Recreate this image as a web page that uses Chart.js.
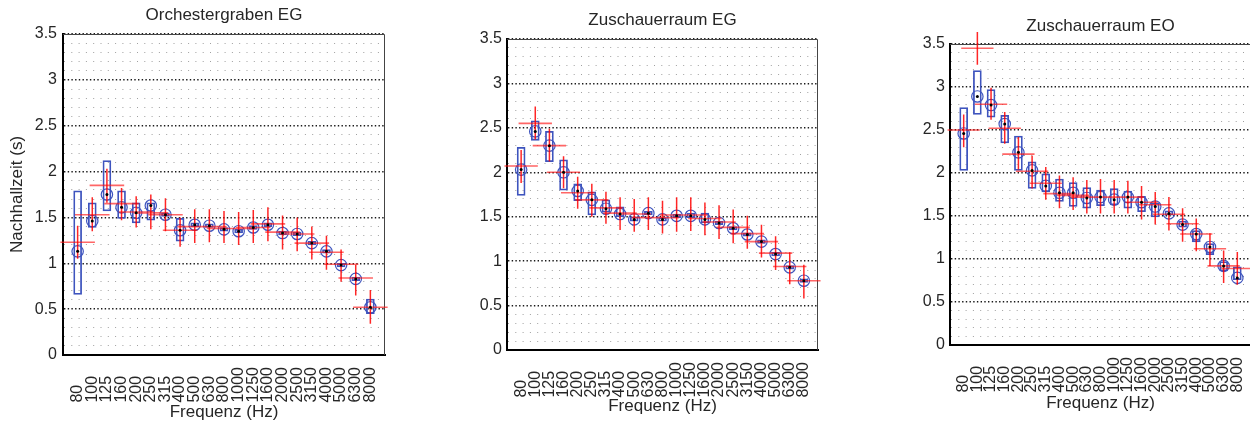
<!DOCTYPE html>
<html>
<head>
<meta charset="utf-8">
<script src="https://cdn.jsdelivr.net/npm/chart.js@4.4.1/dist/chart.umd.min.js"></script>
<style>
  html, body { margin: 0; padding: 0; background: #fff; width: 1250px; height: 425px; overflow: hidden; }
  canvas { position: absolute; left: 0; top: 0; }
</style>
</head>
<body>
<canvas id="c1" width="1250" height="425"></canvas>
<canvas id="c2" width="1250" height="425"></canvas>
<canvas id="c3" width="1270" height="425"></canvas>
<script>
/* Terzbänder und Achsenbeschriftung */
const FREQS = ['80', '100', '125', '160', '200', '250', '315', '400', '500', '630', '800',
               '1000', '1250', '1600', '2000', '2500', '3150', '4000', '5000', '6300', '8000'];
const Y_TICKS = [0, 0.5, 1, 1.5, 2, 2.5, 3, 3.5];

/* Orchestergraben EG */
const orchMean  = [1.13, 1.46, 1.75, 1.61, 1.55, 1.63, 1.53, 1.36, 1.42, 1.41, 1.37, 1.35, 1.39, 1.42, 1.33, 1.32, 1.22, 1.13, 0.98, 0.83, 0.52];
const orchQ1    = [0.66, 1.39, 1.57, 1.49, 1.44, 1.47, 1.51, 1.24, 1.40, 1.39, 1.35, 1.33, 1.37, 1.40, 1.31, 1.30, 1.20, 1.11, 0.96, 0.81, 0.45];
const orchQ3    = [1.79, 1.66, 2.12, 1.79, 1.66, 1.66, 1.55, 1.49, 1.44, 1.43, 1.39, 1.37, 1.41, 1.44, 1.35, 1.34, 1.24, 1.15, 1.00, 0.85, 0.61];
const orchRed   = [1.23, 1.53, 1.85, 1.65, 1.56, 1.55, 1.53, 1.36, 1.40, 1.40, 1.38, 1.38, 1.39, 1.43, 1.34, 1.32, 1.22, 1.12, 0.99, 0.84, 0.52];
const orchRedLo = [1.05, 1.35, 1.66, 1.47, 1.39, 1.37, 1.35, 1.18, 1.22, 1.23, 1.22, 1.20, 1.22, 1.24, 1.15, 1.13, 1.04, 0.93, 0.80, 0.65, 0.34];
const orchRedHi = [1.41, 1.72, 2.03, 1.82, 1.73, 1.75, 1.71, 1.50, 1.59, 1.59, 1.57, 1.56, 1.58, 1.61, 1.52, 1.50, 1.40, 1.30, 1.15, 0.98, 0.71];

/* Zuschauerraum EG */
const zegMean  = [2.03, 2.46, 2.30, 2.00, 1.79, 1.69, 1.59, 1.53, 1.47, 1.54, 1.47, 1.51, 1.51, 1.47, 1.43, 1.37, 1.30, 1.22, 1.08, 0.93, 0.78];
const zegQ1    = [1.74, 2.36, 2.12, 1.80, 1.68, 1.52, 1.55, 1.50, 1.45, 1.52, 1.45, 1.49, 1.49, 1.43, 1.41, 1.35, 1.28, 1.20, 1.06, 0.91, 0.76];
const zegQ3    = [2.28, 2.58, 2.46, 2.14, 1.87, 1.78, 1.69, 1.61, 1.50, 1.56, 1.49, 1.53, 1.54, 1.54, 1.45, 1.39, 1.32, 1.24, 1.10, 0.95, 0.80];
const zegRed   = [2.07, 2.55, 2.30, 2.00, 1.77, 1.69, 1.60, 1.54, 1.53, 1.49, 1.49, 1.52, 1.52, 1.48, 1.44, 1.38, 1.31, 1.22, 1.09, 0.94, 0.78];
const zegRedLo = [1.88, 2.37, 2.12, 1.82, 1.59, 1.50, 1.42, 1.35, 1.33, 1.35, 1.31, 1.33, 1.34, 1.29, 1.25, 1.20, 1.14, 1.04, 0.90, 0.74, 0.58];
const zegRedHi = [2.25, 2.74, 2.49, 2.18, 1.95, 1.87, 1.78, 1.72, 1.70, 1.72, 1.68, 1.72, 1.72, 1.66, 1.63, 1.58, 1.51, 1.41, 1.28, 1.10, 0.96];

/* Zuschauerraum EO */
const zeoMean  = [2.46, 2.89, 2.79, 2.57, 2.24, 2.03, 1.85, 1.77, 1.77, 1.71, 1.72, 1.69, 1.72, 1.66, 1.61, 1.53, 1.40, 1.29, 1.14, 0.92, 0.78];
const zeoQ1    = [2.03, 2.68, 2.65, 2.35, 2.03, 1.82, 1.78, 1.67, 1.61, 1.59, 1.62, 1.63, 1.59, 1.55, 1.49, 1.51, 1.37, 1.20, 1.05, 0.86, 0.76];
const zeoQ3    = [2.76, 3.19, 2.97, 2.67, 2.43, 2.13, 1.99, 1.93, 1.89, 1.83, 1.80, 1.82, 1.79, 1.73, 1.65, 1.56, 1.44, 1.33, 1.18, 0.97, 0.91];
const zeoRed   = [2.50, 3.45, 2.80, 2.52, 2.22, 2.02, 1.88, 1.76, 1.74, 1.72, 1.72, 1.72, 1.72, 1.66, 1.63, 1.52, 1.41, 1.29, 1.12, 0.92, 0.89];
const zeoRedLo = [2.30, 3.26, 2.62, 2.34, 2.04, 1.82, 1.69, 1.59, 1.57, 1.53, 1.53, 1.53, 1.53, 1.46, 1.40, 1.33, 1.20, 1.09, 0.92, 0.72, 0.70];
const zeoRedHi = [2.68, 3.64, 2.99, 2.71, 2.42, 2.20, 2.07, 1.97, 1.95, 1.92, 1.93, 1.92, 1.91, 1.85, 1.78, 1.72, 1.59, 1.47, 1.30, 1.10, 1.08];

const FONT = '"Liberation Sans", Arial, Helvetica, sans-serif';
const TXT = '#262626';
const BLUE = 'rgb(62,84,190)';
const HALF = 1.18; // halbe Breite der roten Querstriche, in Bändern

// Gitterlinien alle 0.1 s
const gridVals = [];
for (let k = 0; k <= 35; k++) gridVals.push(k / 10);
const majorLabel = v => Y_TICKS.find(m => Math.abs(m - v) < 1e-6);
// zwei Leerzeichen ~ eine Ziffer, damit die gedrehten Labels unten bündig sind
const padLabel = s => s + '  '.repeat(4 - s.length);

/** Rahmen oben und rechts */
const framePlugin = {
    id: 'frame',
    beforeDatasetsDraw(chart) {
        const { ctx, chartArea: a } = chart;
        ctx.save();
        ctx.strokeStyle = '#444';
        ctx.lineWidth = 1;
        ctx.beginPath();
        ctx.moveTo(a.left, a.top + 0.5);
        ctx.lineTo(a.right - 0.5, a.top + 0.5);
        ctx.lineTo(a.right - 0.5, a.bottom);
        ctx.stroke();
        ctx.restore();
    }
};

/** Titel über der Zeichenfläche zentriert */
const titlePlugin = {
    id: 'panelTitle',
    afterDraw(chart, args, opts) {
        const { ctx, chartArea: a } = chart;
        ctx.save();
        ctx.font = '17px ' + FONT;
        ctx.fillStyle = TXT;
        ctx.textAlign = 'center';
        ctx.textBaseline = 'middle';
        ctx.fillText(opts.text, (a.left + a.right) / 2, opts.y);
        ctx.restore();
    }
};

function makePanel(p) {
    const pos = FREQS.map((f, i) => i + 1);
    const boxes = pos.map((x, i) => ({ x, y: [p.q1[i], p.q3[i]] }));
    const circles = pos.map((x, i) => ({ x, y: p.mean[i] }));
    const hSeg = pos.flatMap((x, i) => [{ x: x - HALF, y: p.red[i] }, { x: x + HALF, y: p.red[i] }, { x, y: null }]);
    const vSeg = pos.flatMap((x, i) => [{ x, y: p.redLo[i] }, { x, y: p.redHi[i] }, { x, y: null }]);

    const canvas = document.getElementById(p.id);
    const W = canvas.width, H = canvas.height;

    return new Chart(canvas.getContext('2d'), {
        type: 'scatter',
        data: {
            datasets: [
                { type: 'scatter', data: circles, pointRadius: 1.5, pointBackgroundColor: '#000', pointBorderWidth: 0, order: 1 },
                { type: 'line', data: vSeg, borderColor: 'rgba(255,0,0,0.85)', borderWidth: 1.5, pointRadius: 0, clip: false, order: 2 },
                { type: 'line', data: hSeg, borderColor: 'rgba(255,20,20,0.65)', borderWidth: 1.6, pointRadius: 0, clip: false, order: 2 },
                { type: 'scatter', data: circles, pointRadius: 5.7, pointBorderColor: BLUE, pointBorderWidth: 1.2,
                  pointBackgroundColor: 'rgba(0,0,0,0)', order: 3 },
                { type: 'bar', data: boxes, barThickness: 8, borderColor: BLUE, borderWidth: 1.1,
                  backgroundColor: 'rgba(0,0,0,0)', borderSkipped: false, order: 4 }
            ]
        },
        options: {
            responsive: false,
            animation: false,
            events: [],
            layout: { padding: { left: p.left - p.axisW, right: W - p.right, top: p.top, bottom: 0 } },
            plugins: {
                legend: { display: false },
                tooltip: { enabled: false },
                panelTitle: { text: p.title, y: p.titleY }
            },
            scales: {
                x: {
                    type: 'linear',
                    min: 0,
                    max: 22,
                    offset: false,
                    afterBuildTicks: s => { s.ticks = pos.map(v => ({ value: v })); },
                    afterFit: s => { s.height = H - p.bottom; },
                    grid: { display: false, drawTicks: false, offset: false },
                    border: { display: true, color: '#000', width: 2 },
                    ticks: {
                        autoSkip: false, minRotation: 90, maxRotation: 90, padding: 12,
                        color: TXT, font: { family: FONT, size: 16 },
                        callback: v => padLabel(FREQS[Math.round(v) - 1])
                    },
                    title: {
                        display: true, text: 'Frequenz (Hz)', color: TXT,
                        font: { family: FONT, size: 17 }, padding: { top: 0, bottom: p.xTitlePad }
                    }
                },
                y: {
                    min: 0,
                    max: 3.5,
                    afterBuildTicks: s => { s.ticks = gridVals.map(v => ({ value: v })); },
                    afterFit: s => { s.width = p.axisW; },
                    grid: {
                        drawTicks: false,
                        color: c => (c.tick && majorLabel(c.tick.value) !== undefined) ? '#1a1a1a' : '#a0a0a0',
                        lineWidth: c => (c.tick && majorLabel(c.tick.value) !== undefined) ? 1.4 : 1
                    },
                    border: {
                        display: true, color: '#000', width: 2,
                        dash: c => !c.tick ? [] : (majorLabel(c.tick.value) !== undefined ? [1.4, 2.3] : [1, 6.3])
                    },
                    ticks: {
                        autoSkip: false, padding: p.tickPad, color: TXT, font: { family: FONT, size: 16 },
                        callback: v => { const t = majorLabel(v); return t === undefined ? '' : String(t); }
                    },
                    title: {
                        display: !!p.yTitle, text: p.yTitle || '', color: TXT,
                        font: { family: FONT, size: 17 }, padding: { top: 7, bottom: 0 }
                    }
                }
            }
        },
        plugins: [framePlugin, titlePlugin]
    });
}

makePanel({
    id: 'c1', title: 'Orchestergraben EG', titleY: 15, yTitle: 'Nachhallzeit (s)',
    left: 63, right: 385, top: 34, bottom: 355, axisW: 63, tickPad: 6, xTitlePad: 2,
    mean: orchMean, q1: orchQ1, q3: orchQ3, red: orchRed, redLo: orchRedLo, redHi: orchRedHi
});
makePanel({
    id: 'c2', title: 'Zuschauerraum EG', titleY: 20,
    left: 507, right: 818, top: 39, bottom: 350, axisW: 46, tickPad: 5, xTitlePad: 8,
    mean: zegMean, q1: zegQ1, q3: zegQ3, red: zegRed, redLo: zegRedLo, redHi: zegRedHi
});
makePanel({
    id: 'c3', title: 'Zuschauerraum EO', titleY: 26,
    left: 950, right: 1251, top: 44, bottom: 345, axisW: 46, tickPad: 5, xTitlePad: 11,
    mean: zeoMean, q1: zeoQ1, q3: zeoQ3, red: zeoRed, redLo: zeoRedLo, redHi: zeoRedHi
});
</script>
</body>
</html>
